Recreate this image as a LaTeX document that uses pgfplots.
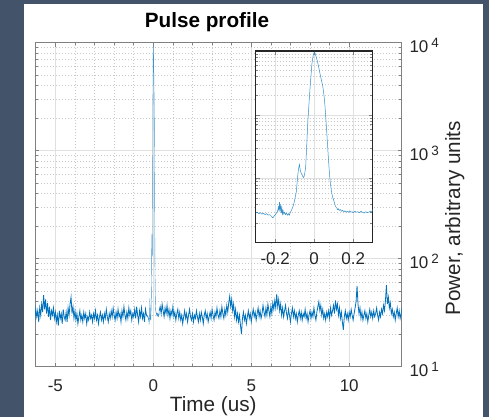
\documentclass[border=0pt]{standalone}
\usepackage{fontspec}
\setmainfont{Liberation Sans}
\usepackage{pgfplots}
\usepackage{pgfplotstable}
\pgfplotsset{compat=1.18}

\definecolor{bgdark}{RGB}{67,83,105}
\definecolor{mblue}{RGB}{0,114,189}
\definecolor{axgray}{RGB}{128,128,128}
\definecolor{txt}{RGB}{38,38,38}

\newcommand\tickfont{\fontsize{17}{17}\selectfont}
\newcommand\labfont{\fontsize{20.7}{22}\selectfont}
\newcommand\sexp[1]{\hspace{3pt}\raisebox{5.5pt}{\fontsize{13.5}{13.5}\selectfont #1}}

% pulse region, also shown in the inset
\pgfplotstableread{
t p
-0.300 29
-0.292 30
-0.284 28.5
-0.276 29.5
-0.268 28
-0.260 29
-0.252 27.5
-0.244 28.5
-0.236 27
-0.228 27.5
-0.220 26
-0.212 24.5
-0.206 26
-0.200 27.5
-0.194 29
-0.188 31
-0.184 36
-0.181 32
-0.178 43
-0.175 31
-0.172 40
-0.169 29
-0.166 35
-0.163 28
-0.160 32
-0.156 28
-0.152 30
-0.147 27.5
-0.142 29
-0.137 27
-0.132 28.5
-0.127 27
-0.122 30
-0.117 32
-0.112 35
-0.107 38
-0.102 44
-0.097 52
-0.092 62
-0.088 85
-0.084 115
-0.080 145
-0.076 168
-0.072 140
-0.068 125
-0.064 118
-0.060 112
-0.056 105
-0.052 108
-0.048 125
-0.044 150
-0.040 260
-0.036 480
-0.032 850
-0.028 1300
-0.024 2000
-0.020 3000
-0.016 4300
-0.012 6200
-0.008 7600
-0.004 8800
0.000 9600
0.004 9300
0.008 8500
0.012 7700
0.016 7000
0.020 6200
0.024 5400
0.028 4700
0.032 4100
0.036 3600
0.040 3200
0.044 2800
0.048 2300
0.052 1800
0.056 1300
0.060 850
0.064 560
0.068 360
0.072 230
0.076 150
0.080 105
0.084 80
0.088 66
0.092 56
0.096 50
0.100 46
0.104 42
0.108 38
0.112 36
0.116 35
0.120 33
0.124 34
0.128 32
0.134 33
0.140 31
0.146 32
0.152 30.5
0.158 31.5
0.164 30
0.170 31
0.176 30
0.182 31.5
0.188 30
0.194 30.5
0.200 29.5
0.208 31
0.216 30
0.224 30.5
0.232 29.5
0.240 31
0.248 30
0.256 29
0.264 30.5
0.272 29.5
0.280 30
0.288 31
0.294 30
0.300 33
}\pulse

\pgfplotsset{
  mstyle/.style={
    scale only axis,
    ymin=10, ymax=10000,
    axis line style={axgray, line width=0.8pt},
    tick style={axgray, line width=0.6pt},
    tick align=inside,
    major tick length=4pt,
    minor tick length=2.5pt,
    grid=both,
    major grid style={black!12, line width=0.6pt},
    minor grid style={black!22, line width=0.5pt, dash pattern=on 1pt off 2pt},
    ticklabel style={font=\tickfont, text=txt, inner sep=0pt},
  },
}

\begin{document}
\begin{tikzpicture}
\useasboundingbox (0,0) rectangle (489pt,417pt);
\fill[bgdark] (0,0) rectangle (489pt,417pt);
\fill[white] (24pt,0) rectangle (483.3pt,413pt);

\begin{axis}[
  ymode=log,
  mstyle,
  at={(35pt,50.3pt)}, anchor=south west,
  width=366.7pt, height=324pt,
  xmin=-6.04, xmax=12.68,
  xtick={-5,0,5,10},
  xticklabels={-5,0,5,10},
  minor x tick num=4,
  ytick={10,100,1000,10000},
  yticklabels={{10\sexp{1}},{10\sexp{2}},{10\sexp{3}},{10\sexp{4}}},
  yticklabel pos=right,
  xticklabel style={anchor=base, yshift=-25pt},
  yticklabel style={anchor=base west, xshift=7.6pt, yshift=-10pt},
  title={Pulse profile},
  title style={at={(axis description cs:0.469,1.029)}, anchor=base, font=\labfont\bfseries, inner sep=0pt},
  xlabel={Time (us)},
  xlabel style={at={(axis description cs:0.486,-0.138)}, anchor=base, font=\labfont, text=txt, inner sep=0pt},
  ylabel={Power, arbitrary units},
  ylabel style={at={(axis description cs:1.159,0.458)}, anchor=base, font=\labfont, text=txt, inner sep=0pt},
]
\addplot[mblue, line width=0.8pt] coordinates {
(-6.10,31) (-6.05,27) (-6.00,34) (-5.95,29) (-5.90,33) (-5.85,26) (-5.80,35) (-5.75,30) (-5.70,38) (-5.65,32)
(-5.60,46) (-5.55,34) (-5.50,42) (-5.45,31) (-5.40,39) (-5.35,29) (-5.30,36) (-5.25,27) (-5.20,33) (-5.15,30)
(-5.10,35) (-5.05,28) (-5.00,32) (-4.95,26) (-4.90,30) (-4.85,24) (-4.80,33) (-4.75,28) (-4.70,31) (-4.65,25)
(-4.60,34) (-4.55,29) (-4.50,27) (-4.45,32) (-4.40,26) (-4.35,35) (-4.30,30) (-4.25,38) (-4.20,44) (-4.15,31)
(-4.10,36) (-4.05,28) (-4.00,33) (-3.95,27) (-3.90,31) (-3.85,25) (-3.80,29) (-3.75,33) (-3.70,27) (-3.65,30)
(-3.60,26) (-3.55,32) (-3.50,28) (-3.45,31) (-3.40,25) (-3.35,29) (-3.30,27) (-3.25,32) (-3.20,28) (-3.15,30)
(-3.10,26) (-3.05,31) (-3.00,28) (-2.95,33) (-2.90,27) (-2.85,30) (-2.80,25) (-2.75,29) (-2.70,32) (-2.65,27)
(-2.60,30) (-2.55,26) (-2.50,31) (-2.45,28) (-2.40,34) (-2.35,29) (-2.30,26) (-2.25,31) (-2.20,28) (-2.15,33)
(-2.10,29) (-2.05,35) (-2.00,30) (-1.95,27) (-1.90,32) (-1.85,28) (-1.80,34) (-1.75,29) (-1.70,31) (-1.65,26)
(-1.60,33) (-1.55,29) (-1.50,36) (-1.45,30) (-1.40,27) (-1.35,32) (-1.30,28) (-1.25,35) (-1.20,30) (-1.15,33)
(-1.10,27) (-1.05,31) (-1.00,29) (-0.95,34) (-0.90,28) (-0.85,36) (-0.80,30) (-0.75,26) (-0.70,33) (-0.65,29)
(-0.60,35) (-0.55,28) (-0.50,31) (-0.45,26) (-0.40,34) (-0.35,30) (-0.30,29)
};
\addplot[mblue!75, line width=0.4pt] table[x=t, y=p] {\pulse};
\addplot[mblue, line width=0.8pt] coordinates {
(0.30,33) (0.35,36) (0.40,31) (0.45,38) (0.50,33) (0.55,29) (0.60,35) (0.65,31) (0.70,37) (0.75,30) (0.80,34)
(0.85,28) (0.90,33) (0.95,30) (1.00,36) (1.05,29) (1.10,32) (1.15,27) (1.20,31) (1.25,34) (1.30,28)
(1.35,32) (1.40,27) (1.45,30) (1.50,25) (1.55,29) (1.60,33) (1.65,28) (1.70,31) (1.75,26) (1.80,30)
(1.85,34) (1.90,29) (1.95,27) (2.00,31) (2.05,26) (2.10,30) (2.15,28) (2.20,33) (2.25,29) (2.30,26)
(2.35,31) (2.40,27) (2.45,32) (2.50,29) (2.55,25) (2.60,30) (2.65,33) (2.70,28) (2.75,31) (2.80,26)
(2.85,29) (2.90,32) (2.95,28) (3.00,34) (3.05,30) (3.10,27) (3.15,32) (3.20,29) (3.25,35) (3.30,30)
(3.35,28) (3.40,33) (3.45,29) (3.50,36) (3.55,31) (3.60,28) (3.65,34) (3.70,30) (3.75,37) (3.80,32)
(3.85,39) (3.90,45) (3.95,36) (4.00,42) (4.05,33) (4.10,38) (4.15,29) (4.20,34) (4.25,27) (4.30,31)
(4.35,26) (4.40,30) (4.45,24) (4.50,20) (4.55,28) (4.60,32) (4.65,27) (4.70,30) (4.75,25) (4.80,29)
(4.85,33) (4.90,28) (4.95,31) (5.00,26) (5.05,30) (5.10,34) (5.15,29) (5.20,32) (5.25,27) (5.30,31)
(5.35,35) (5.40,29) (5.45,33) (5.50,28) (5.55,31) (5.60,37) (5.65,32) (5.70,29) (5.75,35) (5.80,30)
(5.85,38) (5.90,33) (5.95,29) (6.00,36) (6.05,31) (6.10,39) (6.15,34) (6.20,41) (6.25,35) (6.30,47)
(6.35,36) (6.40,42) (6.45,33) (6.50,38) (6.55,30) (6.60,35) (6.65,29) (6.70,33) (6.75,37) (6.80,31)
(6.85,28) (6.90,34) (6.95,30) (7.00,26) (7.05,31) (7.10,35) (7.15,29) (7.20,33) (7.25,28) (7.30,31)
(7.35,26) (7.40,30) (7.45,33) (7.50,28) (7.55,32) (7.60,27) (7.65,31) (7.70,29) (7.75,34) (7.80,28)
(7.85,31) (7.90,26) (7.95,30) (8.00,33) (8.05,28) (8.10,32) (8.15,29) (8.20,35) (8.25,30) (8.30,27)
(8.35,32) (8.40,36) (8.45,40) (8.50,33) (8.55,37) (8.60,30) (8.65,34) (8.70,28) (8.75,31) (8.80,27)
(8.85,32) (8.90,29) (8.95,33) (9.00,28) (9.05,35) (9.10,30) (9.15,33) (9.20,37) (9.25,31) (9.30,41)
(9.35,34) (9.40,38) (9.45,30) (9.50,35) (9.55,28) (9.60,32) (9.65,26) (9.70,22) (9.75,29) (9.80,33)
(9.85,28) (9.90,31) (9.95,27) (10.00,32) (10.05,29) (10.10,34) (10.15,30) (10.20,27) (10.25,31) (10.30,35)
(10.35,40) (10.40,56) (10.45,38) (10.50,31) (10.55,35) (10.60,28) (10.65,32) (10.70,27) (10.75,30) (10.80,33)
(10.85,28) (10.90,31) (10.95,26) (11.00,30) (11.05,34) (11.10,29) (11.15,32) (11.20,28) (11.25,33) (11.30,29)
(11.35,31) (11.40,35) (11.45,30) (11.50,27) (11.55,32) (11.60,29) (11.65,34) (11.70,31) (11.75,37) (11.80,33)
(11.85,41) (11.90,57) (11.95,38) (12.00,44) (12.05,35) (12.10,39) (12.15,31) (12.20,34) (12.25,29) (12.30,32)
(12.35,27) (12.40,31) (12.45,35) (12.50,29) (12.55,33) (12.60,28) (12.65,31) (12.70,36) (12.75,30) (12.80,33)
};
\end{axis}

\begin{axis}[
  ymode=log,
  mstyle,
  at={(255.7pt,174.3pt)}, anchor=south west,
  width=117pt, height=191.7pt,
  axis background/.style={fill=white},
  axis line style={black!85, line width=1.3pt},
  xmin=-0.3, xmax=0.3,
  xtick={-0.2,0,0.2},
  xticklabels={-0.2,0,0.2},
  minor x tick num=0,
  xminorgrids=false,
  ytick={10,100,1000,10000},
  yticklabels={},
  xticklabel style={anchor=base, yshift=-22.3pt},
]
\addplot[mblue!80, line width=0.5pt] table[x=t, y=p] {\pulse};
\end{axis}
\end{tikzpicture}
\end{document}
